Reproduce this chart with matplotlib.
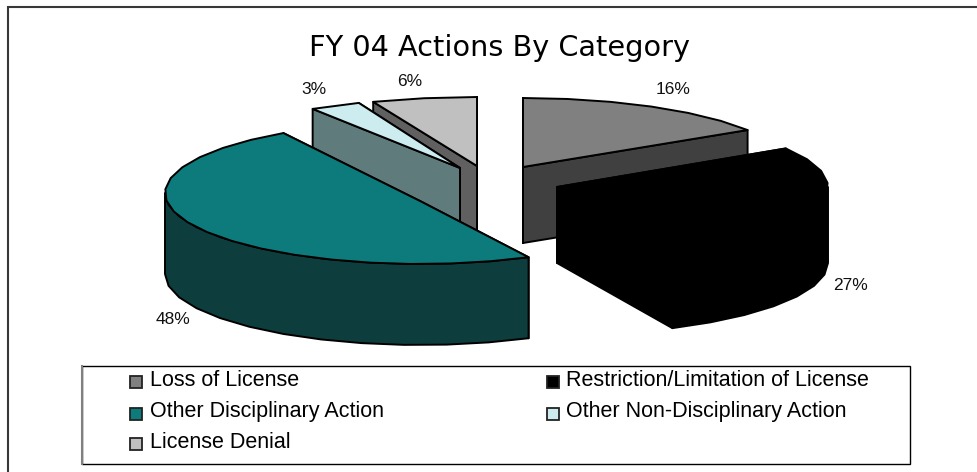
import numpy as np
import matplotlib
matplotlib.use("Agg")
import matplotlib.pyplot as plt
from matplotlib.patches import Polygon, Rectangle

plt.rcParams['font.family'] = ['Liberation Sans', 'DejaVu Sans']

categories = ['Loss of License', 'Restriction/Limitation of License', 'Other Disciplinary Action',
              'Other Non-Disciplinary Action', 'License Denial']
values = [16, 27, 48, 3, 6]

top_colors = ['#808080', '#000000', '#0D7B7C', '#CCECF0', '#C0C0C0']
side_colors = ['#404040', '#000000', '#0E3D3D', '#5F7B7B', '#606060']

# exploded slices: apex position and radii in pixels, then drawing order
apex = [(523, 167), (557, 187), (420, 193), (460, 168), (477, 166)]
apex_dip = [0, 0, 8, 0, 0]
radius_x = [266, 271, 255, 275, 282]
radius_y = [69, 72, 71, 70, 69]
depth = [76, 76, 81, 76, 76]
draw_order = [0, 4, 3, 1, 2]

label_pos = [(673, 89), (851, 285), (173, 319), (314, 89), (410, 81)]
legend_pos = [(136, 382), (553, 382), (136, 414), (553, 414), (136, 444)]
legend_text_y = [381, 381, 412, 412, 442]

fig = plt.figure(figsize=(9.78, 4.72), dpi=100)
ax = fig.add_axes([0, 0, 1, 1])
ax.set_xlim(0, 978)
ax.set_ylim(472, 0)
ax.axis('off')

# outer frame, only top and left are inside the picture
ax.plot([8, 8, 978], [472, 6.5, 6.5], color='#383838', lw=1.5, solid_joinstyle='miter')


def rim_points(i, a0, a1):
    # clockwise angle from 12 o'clock, flattened like the 3D pie
    n = max(2, int(abs(a1 - a0) / 9) + 1)
    t = np.radians(np.linspace(a0, a1, n))
    return np.column_stack([apex[i][0] + radius_x[i] * np.sin(t),
                            apex[i][1] - radius_y[i] * np.cos(t)])


def draw_slice(i, a0, a1):
    kw = dict(edgecolor='black', lw=1.4, joinstyle='round')
    down = np.array([0, depth[i]])
    centre = np.array([apex[i][0], apex[i][1] + apex_dip[i]], dtype=float)
    for a in (a1, a0):
        edge = rim_points(i, a, a)[0]
        face = [centre, edge, edge + down, centre + down]
        ax.add_patch(Polygon(face, facecolor=side_colors[i], **kw))
    lo, hi = max(a0, 90), min(a1, 270)
    if hi > lo:
        rim = rim_points(i, lo, hi)
        ax.add_patch(Polygon(np.vstack([rim, (rim + down)[::-1]]), facecolor=side_colors[i], **kw))
    top = np.vstack([centre, rim_points(i, a0, a1)])
    ax.add_patch(Polygon(top, facecolor=top_colors[i], **kw))


edges = np.concatenate([[0], np.cumsum(values)]) * 3.6
for i in draw_order:
    draw_slice(i, edges[i], edges[i + 1])

for v, (x, y) in zip(values, label_pos):
    ax.text(x, y, f"{v}%", ha='center', va='center', fontsize=12.5, color='#111111')

ax.text(499.5, 55.5, 'FY 04 Actions By Category', ha='center', va='baseline', fontsize=20.7,
        family=['DejaVu Sans'], color='black')

# legend box
ax.add_patch(Rectangle((82, 366), 828, 98, fill=False, edgecolor='black', lw=1.0))
ax.plot([82, 82], [366, 464], color='#808080', lw=1.5)
for name, color, (x, y), ty in zip(categories, top_colors, legend_pos, legend_text_y):
    ax.add_patch(Rectangle((x - 6, y - 6), 12, 12, facecolor=color, edgecolor='#222222', lw=1.3))
    ax.text(x + 13.5, ty, name, ha='left', va='center', fontsize=15.5, color='black')

fig.savefig('out.png', dpi=100)
